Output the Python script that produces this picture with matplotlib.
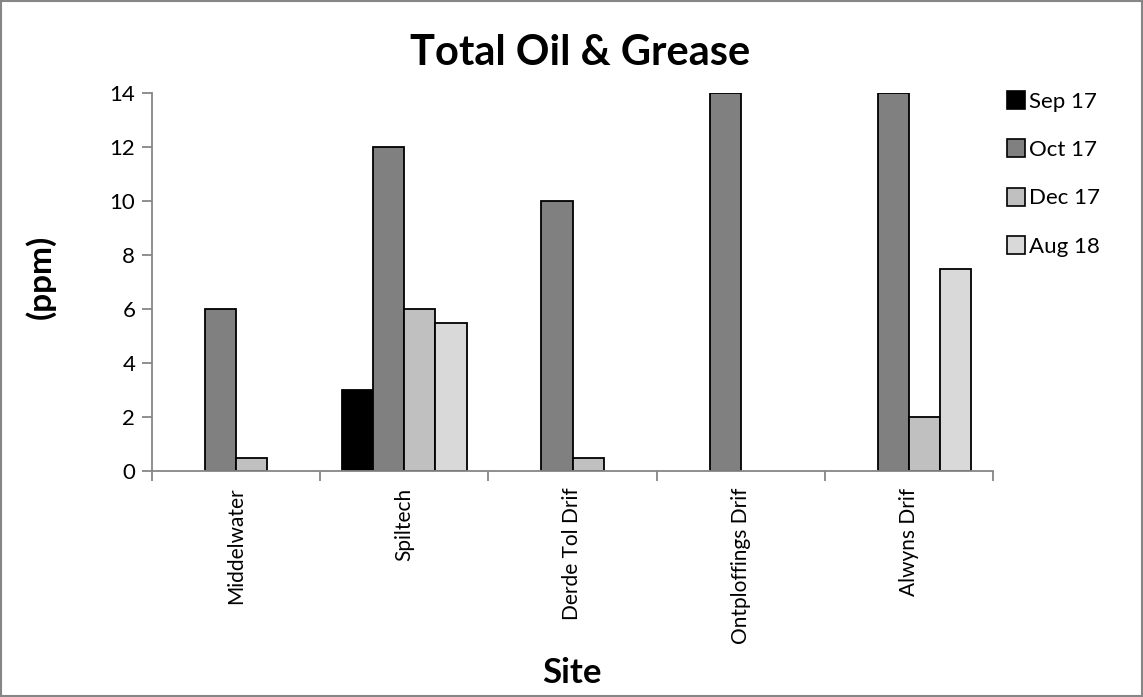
import matplotlib
matplotlib.use("Agg")
import matplotlib.pyplot as plt
import numpy as np
from matplotlib.patches import Rectangle
from matplotlib.lines import Line2D

sites = ["Middelwater", "Spiltech", "Derde Tol Drif", "Ontploffings Drif", "Alwyns Drif"]
series_names = ["Sep 17", "Oct 17", "Dec 17", "Aug 18"]
sep17 = [np.nan, 3, np.nan, np.nan, np.nan]
oct17 = [6, 12, 10, 14, 14]
dec17 = [0.5, 6, 0.5, np.nan, 2]
aug18 = [np.nan, 5.5, np.nan, np.nan, 7.5]
colors = ["#000000", "#808080", "#C0C0C0", "#D9D9D9"]
yticks = [0, 2, 4, 6, 8, 10, 12, 14]

plt.rcParams['font.family'] = ['Lato', 'DejaVu Sans']

fig = plt.figure(figsize=(11.43, 6.97), dpi=100)
ax = fig.add_axes([152/1143, 1-471/697, (993-152)/1143, (471-93)/697])

data = [sep17, oct17, dec17, aug18]
n = len(sites)
x = np.arange(n)
bw = 0.185
offsets = (np.arange(4) - 1.5) * bw
for i, (vals, c, name) in enumerate(zip(data, colors, series_names)):
    ax.bar(x + offsets[i], vals, width=bw, color=c, edgecolor="black", linewidth=1.3, label=name)

ax.set_xlim(-0.5, n - 0.5)
ax.set_ylim(0, 14)
ax.set_yticks(yticks)
ax.set_yticklabels([str(t) for t in yticks], fontsize=16)
ax.set_xticks(x)
ax.set_xticklabels(sites, rotation=90, fontsize=15)
ax.set_xticks(np.arange(-0.5, n, 1.0), minor=True)
ax.tick_params(axis='x', which='major', length=0, pad=12)
ax.tick_params(axis='x', which='minor', length=7, color="#868686", width=1.3, direction='out')
ax.tick_params(axis='y', length=7, color="#868686", width=1.3, direction='out', pad=5)
for s in ["top", "right"]:
    ax.spines[s].set_visible(False)
for s in ["left", "bottom"]:
    ax.spines[s].set_color("#868686")
    ax.spines[s].set_linewidth(1.3)

fig.text(580/1143, 1-53/697, "Total Oil & Grease", ha="center", va="center", fontsize=30, fontweight="bold")
fig.text(40/1143, 1-277/697, "(ppm)", ha="center", va="center", rotation=90, fontsize=24, fontweight="bold")
fig.text(572/1143, 1-673/697, "Site", ha="center", va="center", fontsize=25, fontweight="bold")

handles = [Line2D([], [], marker='s', linestyle='none', markersize=13, markerfacecolor=c,
                  markeredgecolor='black', markeredgewidth=1.2) for c in colors]
fig.legend(handles, series_names, loc="upper left", bbox_to_anchor=(985/1143, 1-72/697),
           frameon=False, fontsize=16, labelspacing=1.27, handletextpad=0.1, handlelength=1.0)

fig.patches.append(Rectangle((0.001, 0.001), 0.998, 0.997, transform=fig.transFigure,
                             fill=False, edgecolor="#868686", linewidth=1.5))

fig.savefig("out.png", dpi=100)
